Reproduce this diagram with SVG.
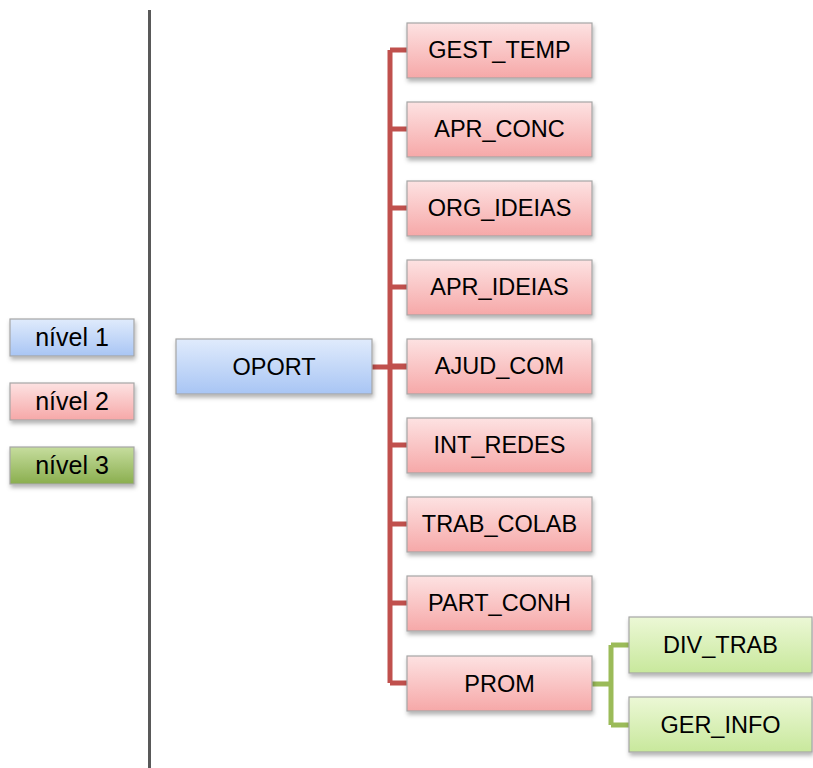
<svg xmlns="http://www.w3.org/2000/svg" width="813" height="768" viewBox="0 0 813 768">
<defs>
<linearGradient id="gBlue" x1="0" y1="0" x2="0" y2="1"><stop offset="0" stop-color="#e0ebfc"/><stop offset="1" stop-color="#a8c5f4"/></linearGradient>
<linearGradient id="gRed" x1="0" y1="0" x2="0" y2="1"><stop offset="0" stop-color="#fde2e2"/><stop offset="1" stop-color="#f6a8a8"/></linearGradient>
<linearGradient id="gGreen" x1="0" y1="0" x2="0" y2="1"><stop offset="0" stop-color="#ecf8d6"/><stop offset="1" stop-color="#c8e89c"/></linearGradient>
<linearGradient id="gGreenD" x1="0" y1="0" x2="0" y2="1"><stop offset="0" stop-color="#c6dd9e"/><stop offset="1" stop-color="#8aae4e"/></linearGradient>
<filter id="sh" x="-10%" y="-20%" width="130%" height="160%"><feDropShadow dx="1" dy="3" stdDeviation="2" flood-color="#000" flood-opacity="0.3"/></filter>
</defs>
<style>
.box{stroke:#a6a6a6;stroke-width:1.2;filter:url(#sh)}
.b{fill:url(#gBlue)}.r{fill:url(#gRed)}.g{fill:url(#gGreen)}.gd{fill:url(#gGreenD)}
text{font-family:"Liberation Sans",Arial,sans-serif;font-size:23.5px;fill:#000;text-anchor:middle;dominant-baseline:central}
.leg{font-size:25px}
.cr{fill:none;stroke:#c0504d;stroke-width:5}
.cg{fill:none;stroke:#9bbb59;stroke-width:5}
</style>
<rect width="813" height="768" fill="#fff"/>
<line x1="149.5" y1="10" x2="149.5" y2="768" stroke="#595959" stroke-width="3"/>
<g id="legend">
<g id="leg1"><rect class="box b" x="10" y="319" width="124" height="37"/><text class="leg" x="72" y="337">nível 1</text></g>
<g id="leg2"><rect class="box r" x="10" y="383" width="124" height="37"/><text class="leg" x="72" y="401">nível 2</text></g>
<g id="leg3"><rect class="box gd" x="10" y="447" width="124" height="37"/><text class="leg" x="72" y="465">nível 3</text></g>
</g>
<g id="connectors">
<path class="cr" d="M372 367H408"/>
<path class="cr" d="M390 50V683"/>
<path class="cr" d="M390 50H408M390 129H408M390 208H408M390 287H408M390 366H408M390 445H408M390 524H408M390 603H408M390 683H408"/>
<path class="cg" d="M592 684H611M611 645V725M611 645H630M611 725H630"/>
</g>
<g id="OPORT"><rect class="box b" x="176" y="339" width="196" height="55"/><text x="274" y="367">OPORT</text></g>
<g id="GEST_TEMP"><rect class="box r" x="407" y="23" width="185" height="55"/><text x="499.5" y="50">GEST_TEMP</text></g>
<g id="APR_CONC"><rect class="box r" x="407" y="102" width="185" height="55"/><text x="499.5" y="129">APR_CONC</text></g>
<g id="ORG_IDEIAS"><rect class="box r" x="407" y="181" width="185" height="55"/><text x="499.5" y="208">ORG_IDEIAS</text></g>
<g id="APR_IDEIAS"><rect class="box r" x="407" y="260" width="185" height="55"/><text x="499.5" y="287">APR_IDEIAS</text></g>
<g id="AJUD_COM"><rect class="box r" x="407" y="339" width="185" height="55"/><text x="499.5" y="366">AJUD_COM</text></g>
<g id="INT_REDES"><rect class="box r" x="407" y="418" width="185" height="55"/><text x="499.5" y="445">INT_REDES</text></g>
<g id="TRAB_COLAB"><rect class="box r" x="407" y="497" width="185" height="55"/><text x="499.5" y="524">TRAB_COLAB</text></g>
<g id="PART_CONH"><rect class="box r" x="407" y="576" width="185" height="55"/><text x="499.5" y="603">PART_CONH</text></g>
<g id="PROM"><rect class="box r" x="407" y="656" width="185" height="55"/><text x="499.5" y="684">PROM</text></g>
<g id="DIV_TRAB"><rect class="box g" x="629" y="617" width="183" height="56"/><text x="720.5" y="645">DIV_TRAB</text></g>
<g id="GER_INFO"><rect class="box g" x="629" y="697" width="183" height="55"/><text x="720.5" y="725">GER_INFO</text></g>
</svg>
